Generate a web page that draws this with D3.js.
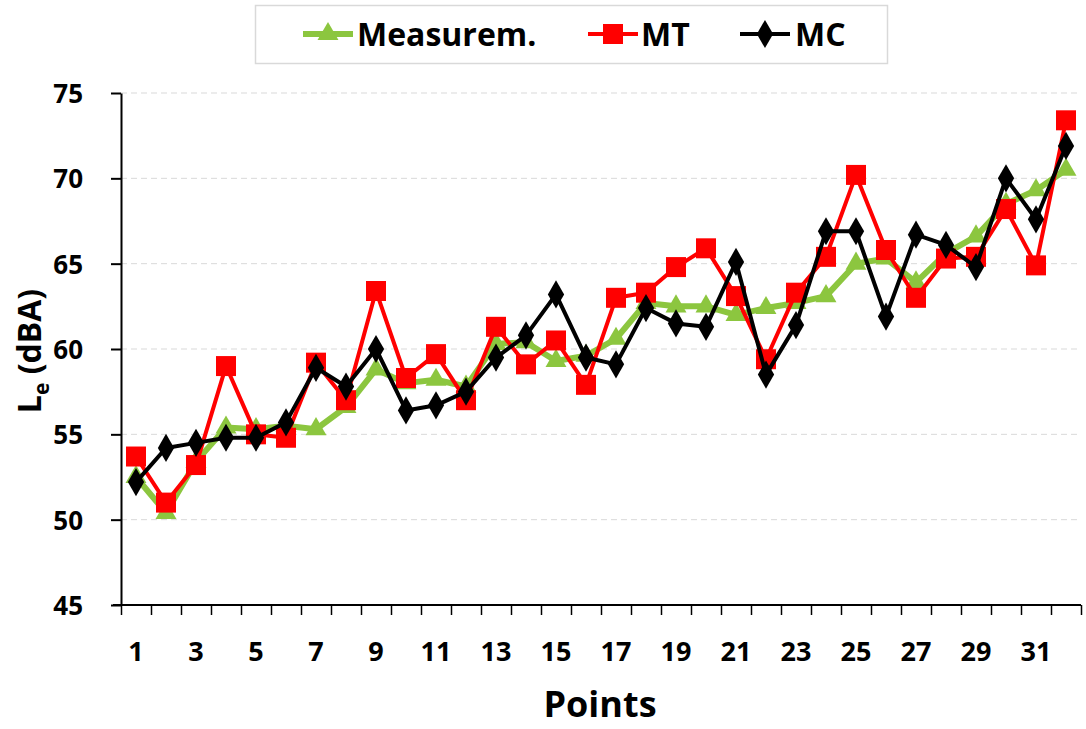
<!DOCTYPE html>
<html><head><meta charset="utf-8">
<script src="https://cdn.jsdelivr.net/npm/d3@7"></script>
<style>
body{margin:0;background:#fff;}
svg text{font-family:"Open Sans",Lato,sans-serif;font-weight:bold;fill:#000;}
</style></head>
<body><svg id="c" width="1086" height="729"></svg>
<script>
const categories = d3.range(1, 33);
const tickLabels = [1,3,5,7,9,11,13,15,17,19,21,23,25,27,29,31];
const yTicks = [45,50,55,60,65,70,75];
const measured = [52.5,50.4,53.4,55.4,55.3,55.5,55.3,56.6,58.8,58.0,58.2,57.8,60.3,60.4,59.3,59.6,60.6,62.7,62.5,62.5,62.0,62.4,62.7,63.1,65.0,65.3,63.9,65.6,66.6,68.5,69.3,70.5];
const mt = [53.7,51.0,53.2,59.0,55.0,54.8,59.2,57.0,63.4,58.3,59.7,57.0,61.3,59.1,60.5,57.9,63.0,63.3,64.8,65.9,63.1,59.4,63.3,65.4,70.2,65.8,63.0,65.3,65.4,68.2,64.9,73.4];
const mc = [52.2,54.2,54.5,54.8,54.8,55.7,58.9,57.8,60.0,56.4,56.7,57.5,59.5,60.8,63.2,59.5,59.1,62.4,61.5,61.3,65.1,58.5,61.4,66.9,66.9,61.9,66.7,66.1,64.8,70.0,67.6,71.9];
const seriesNames = ["Measurem.","MT","MC"];

const svg = d3.select("#c");
const L = 121, R = 1081, T = 93, B = 605;
const x = d3.scaleBand().domain(categories).range([L, R]).padding(0);
const xEdge = d3.scaleLinear().domain([0, 32]).range([L, R]);
const y = d3.scaleLinear().domain([45, 75]).range([B, T]);
const cx = d => x(d) + x.bandwidth()/2;

// gridlines
svg.append("g").selectAll("line").data(yTicks.filter(v => v > 45)).join("line")
  .attr("x1", L).attr("x2", R).attr("y1", d => y(d)).attr("y2", d => y(d))
  .attr("stroke", "#d9d9d9").attr("stroke-width", 1).attr("stroke-dasharray", "6,4");

// y axis
const ya = svg.append("g").attr("transform", `translate(${L},0)`)
  .call(d3.axisLeft(y).tickValues(yTicks).tickSize(10).tickSizeOuter(0).tickPadding(28));
ya.select(".domain").attr("stroke", "#000").attr("stroke-width", 2);
ya.selectAll(".tick line").attr("stroke", "#000").attr("stroke-width", 2);
ya.selectAll(".tick text").style("font-size", "26px").attr("dy", "0.36em");

// x axis ticks between categories
const xa = svg.append("g").attr("transform", `translate(0,${B})`)
  .call(d3.axisBottom(xEdge).tickValues(d3.range(0, 33)).tickFormat("").tickSize(10).tickSizeOuter(0));
xa.select(".domain").attr("stroke", "#000").attr("stroke-width", 2).attr("d", `M${L-8},0H${R}`);
xa.selectAll(".tick line").attr("stroke", "#000").attr("stroke-width", 1.5);

// x labels
const xl = svg.append("g").attr("transform", `translate(0,${B})`)
  .call(d3.axisBottom(x).tickValues(tickLabels).tickSize(0).tickPadding(0));
xl.select(".domain").remove();
xl.selectAll(".tick text").style("font-size", "27px").attr("dy", null).attr("y", 56);

// axis titles
svg.append("text").attr("x", 600).attr("y", 717).attr("text-anchor", "middle")
  .style("font-size", "36px").text("Points");
const yt = svg.append("text").attr("transform", "translate(41,351) rotate(-90)")
  .attr("text-anchor", "middle").style("font-size", "32px");
yt.append("tspan").text("L");
yt.append("tspan").attr("dy", 8).style("font-size", "21px").text("e");
yt.append("tspan").attr("dy", -8).text(" (dBA)");

// series
const line = d3.line().x((d, i) => cx(categories[i])).y(d => y(d));
const tri = d3.symbol().type(d3.symbolTriangle).size(190);
const sq = d3.symbol().type(d3.symbolSquare).size(400);
const dia = d3.symbol().type(d3.symbolDiamond).size(230);

function drawSeries(data, color, lw, sym) {
  const g = svg.append("g");
  g.append("path").datum(data).attr("d", line).attr("fill", "none")
    .attr("stroke", color).attr("stroke-width", lw).attr("stroke-linejoin", "round");
  g.selectAll("path.m").data(data).join("path").attr("class", "m")
    .attr("transform", (d, i) => `translate(${cx(categories[i])},${y(d)})`)
    .attr("d", sym).attr("fill", color);
}
drawSeries(measured, "#8cc63f", 6, tri);
drawSeries(mt, "#ff0000", 4, sq);
drawSeries(mc, "#000000", 4, dia);

// legend
const lg = svg.append("g");
lg.append("rect").attr("x", 255.5).attr("y", 5.5).attr("width", 632).attr("height", 58)
  .attr("fill", "#fff").attr("stroke", "#d9d9d9").attr("stroke-width", 1.5);
const legItems = [
  {name: seriesNames[0], color: "#8cc63f", lw: 6, sym: tri, x0: 303, tx: 357},
  {name: seriesNames[1], color: "#ff0000", lw: 4, sym: sq, x0: 588, tx: 641},
  {name: seriesNames[2], color: "#000000", lw: 4, sym: dia, x0: 740, tx: 795}
];
legItems.forEach(it => {
  const yy = 34;
  lg.append("line").attr("x1", it.x0).attr("x2", it.x0 + 50).attr("y1", yy).attr("y2", yy)
    .attr("stroke", it.color).attr("stroke-width", it.lw);
  lg.append("path").attr("transform", `translate(${it.x0 + 25},${yy})`).attr("d", it.sym).attr("fill", it.color);
  lg.append("text").attr("x", it.tx).attr("y", 45.5)
    .style("font-size", "32px").text(it.name);
});
</script></body></html>
